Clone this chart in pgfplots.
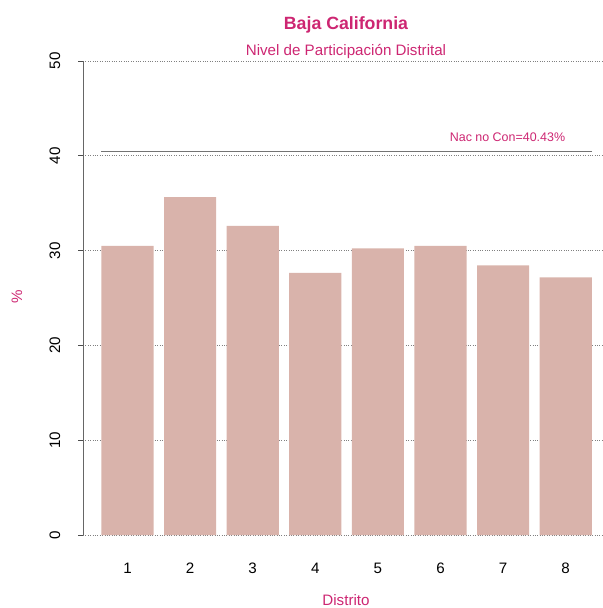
\documentclass[border=0pt]{standalone}
\usepackage{pgfplots}
\pgfplotsset{compat=1.18}
\usepackage{fontspec}
\setmainfont{Liberation Sans}
\definecolor{mag}{HTML}{CD2672}
\definecolor{barc}{HTML}{D9B3AB}
\begin{document}
\begin{tikzpicture}
\useasboundingbox (0,0) rectangle (603bp,608bp);
\begin{axis}[
  at={(83bp,54bp)}, anchor=south west,
  width=520bp, height=512bp, scale only axis,
  xmin=0.289, xmax=8.596, ymin=-2, ymax=52,
  axis line style={draw=none},
  xtick={1,...,8}, xtick style={draw=none},
  ytick={0,10,...,50},
  ytick pos=left, xtick pos=bottom,
  tick align=outside, major tick length=5bp,
  ytick style={black!70, line width=0.6pt},
  ymajorgrids, grid style={dotted, black!50, line width=0.6pt},
  /pgf/number format/assume math mode=true,
  ticklabel style={font=\fontsize{15.2}{17}\selectfont},
  yticklabel style={xshift=-23bp, rotate=90, anchor=center},
  xticklabel style={anchor=center, yshift=-9bp},
  clip=false,
]
\addplot[ybar, bar width=0.8333, fill=barc, draw=none] coordinates {
(1,30.49) (2,35.65) (3,32.60) (4,27.64) (5,30.24) (6,30.49) (7,28.45) (8,27.18)};
\addplot[black!55, line width=1.1pt, no marks] coordinates {(0.5833,40.43) (8.4167,40.43)};
\draw[black!60, line width=0.6pt] (axis cs:0.289,0) -- (axis cs:0.289,50);
\node[mag, anchor=base, font=\fontsize{12.5}{14}\selectfont] at (axis cs:7.07,41.5) {Nac no Con=40.43\%};
\end{axis}
\node[mag, anchor=base, font=\fontsize{17.8}{20}\selectfont\bfseries] at (346bp,578bp) {Baja California};
\node[mag, anchor=base, font=\fontsize{15.2}{17}\selectfont] at (346bp,552.5bp) {Nivel de Participación Distrital};
\node[mag, anchor=base, font=\fontsize{15.2}{17}\selectfont] at (346bp,3bp) {Distrito};
\node[mag, font=\fontsize{15.2}{17}\selectfont, rotate=90] at (17bp,311bp) {\%};
\end{tikzpicture}
\end{document}
